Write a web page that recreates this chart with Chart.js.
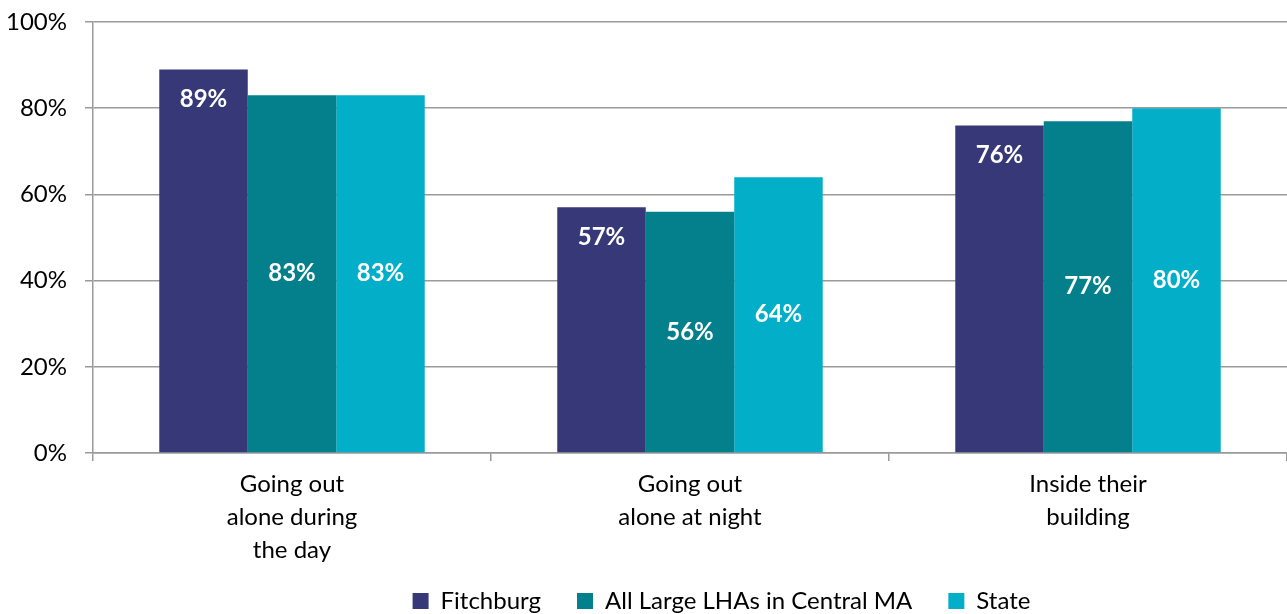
<!DOCTYPE html>
<html>
<head>
<meta charset="utf-8">
<script src="https://cdn.jsdelivr.net/npm/chart.js@4"></script>
<style>
  html, body { margin: 0; padding: 0; background: #fff; }
  #wrap { width: 1287px; height: 614px; }
</style>
</head>
<body>
<div id="wrap"><canvas id="safetyChart" width="1287" height="614"></canvas></div>
<script>
// Share of residents who feel safe, by situation
const categories = [
    ['Going out', 'alone during', 'the day'],
    ['Going out', 'alone at night'],
    ['Inside their', 'building']
];
const fitchburg = [89, 57, 76];
const centralMA = [83, 56, 77];
const state = [83, 64, 80];
const yTicks = [0, 20, 40, 60, 80, 100];

const GRID = '#9a9a9a';
const FONT = 'Lato, Calibri, "Open Sans", sans-serif';

// White value labels: Fitchburg near the top of its bar, the others centred
const barLabels = {
    id: 'barLabels',
    afterDatasetsDraw(chart) {
        const ctx = chart.ctx;
        ctx.save();
        ctx.fillStyle = '#ffffff';
        ctx.font = 'bold 24px ' + FONT;
        ctx.textAlign = 'center';
        ctx.textBaseline = 'middle';
        chart.data.datasets.forEach(function (ds, i) {
            chart.getDatasetMeta(i).data.forEach(function (bar, j) {
                const y = i === 0 ? bar.y + 30 : (bar.y + bar.base) / 2;
                ctx.fillText(ds.data[j] + '%', bar.x, y);
            });
        });
        ctx.restore();
    }
};

// Pull the legend up towards the category labels and a bit to the right
const legendNudge = {
    id: 'legendNudge',
    afterLayout(chart) {
        const lg = chart.legend;
        if (lg) {
            lg.top -= 14;
            lg.bottom -= 14;
            lg.left += 76;
            lg.right += 76;
        }
    }
};

new Chart(document.getElementById('safetyChart'), {
    type: 'bar',
    data: {
        labels: categories,
        datasets: [
            { label: 'Fitchburg', data: fitchburg, backgroundColor: '#363877' },
            { label: 'All Large LHAs in Central MA', data: centralMA, backgroundColor: '#047f8c' },
            { label: 'State', data: state, backgroundColor: '#03aec8' }
        ]
    },
    options: {
        responsive: false,
        animation: false,
        devicePixelRatio: 1,
        layout: { padding: { top: 22, right: -4, left: 0, bottom: -23 } },
        datasets: { bar: { categoryPercentage: 0.667, barPercentage: 1.0 } },
        plugins: {
            tooltip: { enabled: false },
            legend: {
                position: 'bottom',
                labels: {
                    color: '#000',
                    font: { family: FONT, size: 24 },
                    boxWidth: 16,
                    boxHeight: 16,
                    padding: 36
                }
            }
        },
        scales: {
            x: {
                grid: {
                    offset: true,
                    drawOnChartArea: false,
                    color: GRID,
                    lineWidth: 1.5,
                    tickLength: 8
                },
                border: { color: GRID, width: 1.5 },
                ticks: {
                    color: '#000',
                    padding: 7,
                    maxRotation: 0,
                    font: { family: FONT, size: 24, lineHeight: 1.375 }
                },
                afterFit(scale) { scale.height = 114; }
            },
            y: {
                min: 0,
                max: 100,
                afterBuildTicks(scale) {
                    scale.ticks = yTicks.map(function (v) { return { value: v }; });
                },
                grid: { color: GRID, lineWidth: 1.5, tickLength: 8 },
                border: { color: GRID, width: 1.5 },
                ticks: {
                    color: '#000',
                    padding: 18,
                    font: { family: FONT, size: 24 },
                    callback: function (v) { return v + '%'; }
                },
                afterFit(scale) {
                    scale.width = 93;
                    scale.paddingTop = 0;
                    scale.paddingBottom = 0;
                }
            }
        }
    },
    plugins: [barLabels, legendNudge]
});
</script>
</body>
</html>
